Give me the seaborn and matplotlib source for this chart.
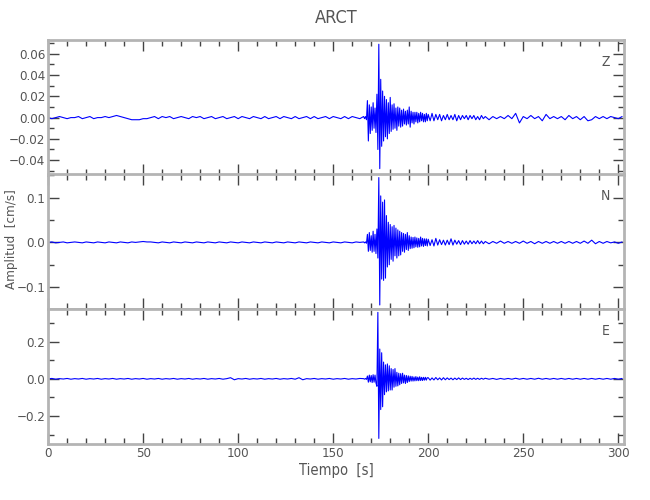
import numpy as np
import pandas as pd
import matplotlib
matplotlib.use("Agg")
import matplotlib.pyplot as plt
from matplotlib.ticker import MultipleLocator, FuncFormatter
import seaborn as sns

# sampling grid of the record (s)
t_pre = np.arange(0, 166, 2)
t_evt = np.arange(166, 200, 0.5)
t_coda = np.arange(200, 230, 1)
t_tail = np.arange(230, 304, 2)
tiempo = np.concatenate([t_pre, t_evt, t_coda, t_tail])

# amplitudes, in 1e-3 cm/s
z_pre = [0, -1, 0, 1, 0, -1, 0, 0, 1, -1,
         0, 1, -1, 0, 0, 1, 0, 1, 2, 1,
         0, -1, -2, -2, -2, -1, -1, 0, 1, -1,
         1, 0, 1, -1, 0, 1, 0, -1, 1, 0,
         1, -1, 0, 1, -1, 0, 1, -1, 0, 1,
         -1, 1, 0, -1, 1, 0, -1, 1, -1, 0,
         1, -1, 1, 0, -1, 1, -1, 0, 1, -1,
         1, -1, 0, 1, -1, 1, 0, -1, 1, -1,
         1, 0, -1]
z_evt = [1, -1, 1, -2, 16, -22, 12, -15, 10, -12,
         14, -10, 9, -14, 22, -30, 69, -48, 36, -27,
         25, -22, 20, -18, 17, -20, 14, -15, 19, -13,
         12, -11, 13, -10, 9, -12, 10, -8, 9, -9,
         7, -8, 8, -6, 6, -7, 7, -6, 10, -9,
         6, -5, 5, -6, 5, -4, 5, -5, 4, -4,
         5, -3, 4, -4, 3, -4, 4, -3]
z_coda = [3, -3, 4, -3, 3, -2, 3, -3, 2, -2,
          3, -2, 2, -2, 3, -3, 2, -2, 2, -1,
          2, -2, 2, -1, 2, -2, 1, -2, 2, -1]
z_tail = [1, -2, 1, -1, 1, -1, 2, -1, 4, -5,
          1, -1, 2, -1, 1, -3, 3, -1, 1, -1,
          1, -2, 2, -1, 1, -2, 1, -3, -2, 1,
          -1, 1, -1, 1, 0, -1, 1]

n_pre = [0, 1, -1, 0, 1, -1, 0, 1, 0, -1,
         1, 0, -1, 1, 0, -1, 1, 0, -1, 1,
         0, -1, 1, 0, 1, 2, 1, 1, 0, -1,
         1, 0, -1, 1, 0, -1, 1, 0, -1, 1,
         0, -1, 1, 0, -1, 1, 0, -1, 1, 0,
         -1, 1, 0, -1, 1, 0, -1, 1, 0, -1,
         1, 0, -1, 1, 0, -1, 1, 0, -1, 1,
         0, -1, 1, 0, -1, 1, 0, -1, 1, 0,
         -1, 1, 0]
n_evt = [1, -1, 1, -2, 18, -20, 22, -18, 15, -22,
         25, -20, 18, -25, 30, -35, 145, -140, 104, -82,
         90, -85, 95, -80, 60, -55, 45, -50, 40, -38,
         35, -42, 38, -30, 32, -35, 28, -30, 25, -28,
         22, -20, 20, -22, 18, -16, 22, -18, 15, -14,
         12, -13, 11, -12, 12, -10, 10, -11, 9, -10,
         12, -8, 9, -9, 8, -7, 8, -8]
n_coda = [7, -7, 6, -8, 9, -6, 6, -5, 5, -6,
          5, -5, 8, -6, 5, -4, 4, -5, 4, -4,
          3, -4, 4, -3, 3, -3, 4, -3, 3, -3]
n_tail = [2, -3, 2, -2, 3, -2, 2, -2, 2, -2,
          3, -2, 2, -3, 2, -2, 2, -2, 2, -2,
          2, -2, 2, -2, 2, -2, 3, -2, 5, -3,
          2, -2, 2, -1, 1, -2, 1]

e_pre = [0, 2, -2, 1, -1, 2, -2, 1, -1, 2,
         -2, 1, -1, 2, -2, 1, -1, 2, -2, 1,
         -1, 2, -2, 1, -1, 2, -2, 1, -1, 2,
         -2, 1, -1, 2, -2, 1, -1, 2, -2, 1,
         -1, 2, -2, 1, -1, 2, -2, 1, 6, -5,
         1, -1, 2, -2, 1, -1, 2, -2, 1, -1,
         2, -2, 1, -1, 2, -2, 6, -5, 1, -1,
         2, -2, 1, -1, 2, -2, 1, -1, 2, -2,
         1, -1, 2]
e_evt = [1, -2, 2, -3, 15, -18, 20, -16, 18, -20,
         22, -18, 20, -22, -40, 357, -320, 160, -165, 140,
         -150, 90, -85, 75, -70, 80, -65, 70, -60, 55,
         -60, 50, -45, 55, -40, 35, -38, 30, -32, 28,
         -25, 30, -22, 20, -25, 18, -20, 16, -15, 14,
         -12, 13, -12, 10, -11, 12, -10, 9, -10, 11,
         -9, 8, -9, 8, -7, 8, -7, 6]
e_coda = [6, -7, 5, -6, 7, -5, 5, -6, 6, -5,
          5, -4, 4, -5, 4, -4, 5, -4, 4, -3,
          3, -4, 3, -3, 4, -3, 3, -3, 3, -2]
e_tail = [3, -2, 2, -3, 2, -2, 2, -2, 3, -2,
          2, -2, 2, -2, 3, -2, 2, -2, 2, -2,
          2, -2, 2, -2, 2, -2, 2, -2, 2, -2,
          2, -2, 2, -2, 2, -2, 2]

componentes = ["Z", "N", "E"]
trazas = {
    "Z": np.array(z_pre + z_evt + z_coda + z_tail) * 1e-3,
    "N": np.array(n_pre + n_evt + n_coda + n_tail) * 1e-3,
    "E": np.array(e_pre + e_evt + e_coda + e_tail) * 1e-3,
}
ylims = {"Z": (-0.054, 0.073), "N": (-0.149, 0.153), "E": (-0.35, 0.375)}
ymajor = {"Z": 0.02, "N": 0.1, "E": 0.2}
ydec = {"Z": 2, "N": 1, "E": 1}

sns.set_theme(style="ticks")
plt.rcParams["font.family"] = ["DejaVu Sans"]
plt.rcParams["font.stretch"] = "condensed"
gris = "#555555"
eje = "#b4b4b4"

fig = plt.figure(figsize=(6.5, 5), dpi=100)
bottoms = [0.65, 0.382, 0.112]
height = 0.27

for i, comp in enumerate(componentes):
    ax = fig.add_axes([0.074, bottoms[i], 0.886, height])
    df = pd.DataFrame({"t": tiempo, "a": trazas[comp]})
    sns.lineplot(data=df, x="t", y="a", ax=ax, color="#0000ff",
                 linewidth=0.8, estimator=None, sort=False)
    ax.set_xlim(0, 303)
    ax.set_ylim(*ylims[comp])
    ax.xaxis.set_major_locator(MultipleLocator(50))
    ax.xaxis.set_minor_locator(MultipleLocator(10))
    ax.yaxis.set_major_locator(MultipleLocator(ymajor[comp]))
    ax.yaxis.set_minor_locator(MultipleLocator(ymajor[comp] / 2))
    d = ydec[comp]
    ax.yaxis.set_major_formatter(FuncFormatter(
        lambda v, p, d=d: f"{0 if abs(v) < 1e-9 else v:.{d}f}".replace("-", "\u2212")))
    ax.tick_params(which="both", direction="in", top=True, right=True,
                   color="#444444", width=1, labelsize=9.5, labelcolor=gris, pad=2)
    ax.tick_params(which="major", length=8)
    ax.tick_params(which="minor", length=4)
    for s in ax.spines.values():
        s.set_color(eje)
        s.set_linewidth(2)
    ax.set_xlabel("")
    ax.set_ylabel("")
    if i < 2:
        ax.set_xticklabels([])
    else:
        ax.set_xlabel("Tiempo  [s]", color=gris, fontsize=10.5, labelpad=2)
    if i == 1:
        ax.set_ylabel("Amplitud  [cm/s]", color=gris, fontsize=9.5)
        ax.yaxis.set_label_coords(-0.053, 0.52)
    if i == 0:
        ax.set_title("ARCT", color=gris, fontsize=13, pad=12)
    ax.text(0.968, 0.84, comp, transform=ax.transAxes, color=gris,
            fontsize=10, ha="center", va="center")

fig.savefig("out.png", dpi=100)
